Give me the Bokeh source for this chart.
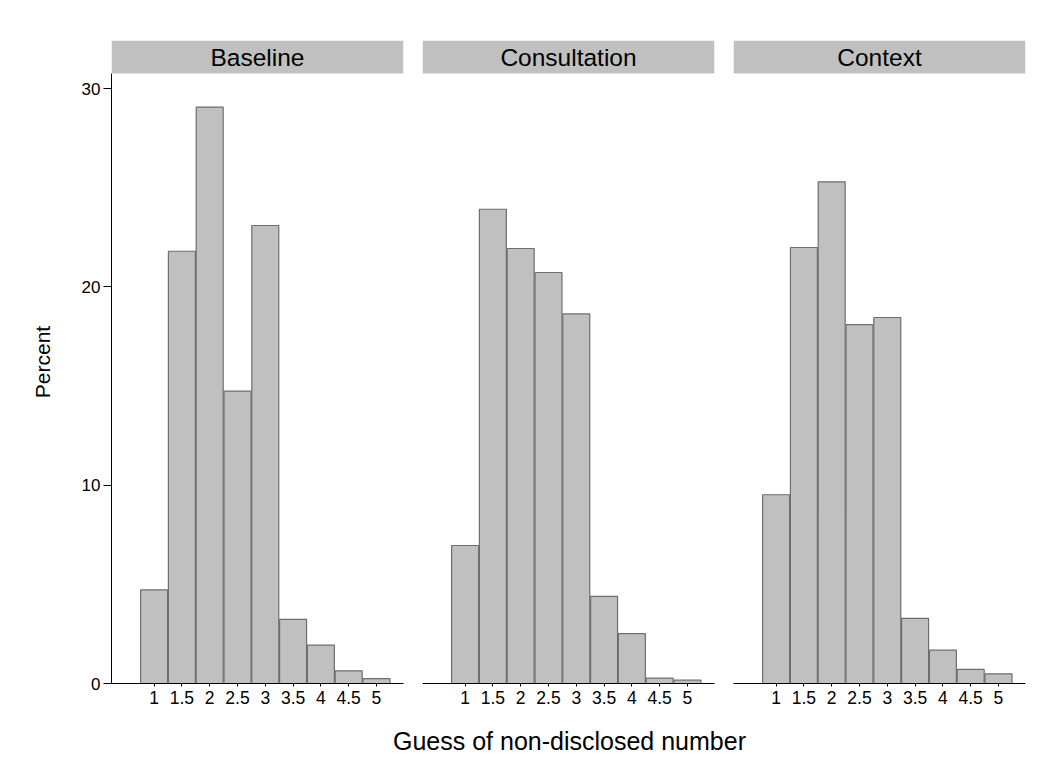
from bokeh.plotting import figure
from bokeh.layouts import row, column
from bokeh.models import FixedTicker, Range1d, BoxAnnotation, Label
from bokeh.embed import file_html
from bokeh.resources import INLINE

guess = [1, 1.5, 2, 2.5, 3, 3.5, 4, 4.5, 5]
tick_labels = ["1", "1.5", "2", "2.5", "3", "3.5", "4", "4.5", "5"]
panels = ["Baseline", "Consultation", "Context"]
baseline = [4.72, 21.8, 29.07, 14.75, 23.1, 3.23, 1.94, 0.64, 0.25]
consultation = [6.96, 23.92, 21.94, 20.73, 18.64, 4.39, 2.52, 0.27, 0.17]
context = [9.52, 21.99, 25.3, 18.1, 18.46, 3.28, 1.68, 0.71, 0.49]
y_ticks = [0, 10, 20, 30]
x_title = "Guess of non-disclosed number"
y_title = "Percent"
series = [baseline, consultation, context]

FONT = "Liberation Sans"
X0, X1 = 0.234, 5.486
Y0, Y1 = 0, 32.43
STRIP_BOTTOM = 30.76

figs = []
for i, (name, vals) in enumerate(zip(panels, series)):
    p = figure(
        frame_width=292, frame_height=643,
        x_range=Range1d(X0, X1), y_range=Range1d(Y0, Y1),
        output_backend="svg", toolbar_location=None,
        y_axis_location="left" if i == 0 else None,
        min_border_left=111 if i == 0 else 10,
        min_border_right=9 if i < 2 else 10,
        min_border_top=40, min_border_bottom=35,
        background_fill_color="white", border_fill_color="white",
    )
    p.outline_line_color = None
    p.xgrid.visible = False
    p.ygrid.visible = False
    p.vbar(x=guess, top=vals, width=0.485, bottom=0,
           fill_color="#c0c0c0", line_color="#6e6e6e", line_width=1.2)

    xa = p.xaxis[0]
    xa.ticker = FixedTicker(ticks=guess)
    xa.major_label_overrides = {float(g): t for g, t in zip(guess, tick_labels)}
    xa.minor_tick_line_color = None
    xa.major_tick_out = 3
    xa.major_tick_in = 0
    xa.major_label_standoff = 4
    xa.major_label_text_font = FONT
    xa.major_label_text_font_size = "17.5px"
    xa.major_label_text_color = "black"
    xa.axis_line_color = "black"
    xa.major_tick_line_color = "black"

    if i == 0:
        ya = p.yaxis[0]
        ya.ticker = FixedTicker(ticks=y_ticks)
        ya.bounds = (Y0, STRIP_BOTTOM)
        ya.minor_tick_line_color = None
        ya.major_tick_out = 8
        ya.major_tick_in = 0
        ya.major_label_standoff = 3
        ya.major_label_text_font = FONT
        ya.major_label_text_font_size = "17px"
        ya.major_label_text_color = "black"
        ya.axis_line_color = "black"
        ya.major_tick_line_color = "black"
        ya.axis_label = y_title
        ya.axis_label_text_font = FONT
        ya.axis_label_text_font_size = "21px"
        ya.axis_label_text_font_style = "normal"
        ya.axis_label_text_color = "black"
        ya.axis_label_standoff = 25

    strip = BoxAnnotation(bottom=STRIP_BOTTOM, fill_color="#c0c0c0",
                          fill_alpha=1.0, line_color=None)
    p.add_layout(strip)
    p.add_layout(Label(x=(X0 + X1) / 2, y=(STRIP_BOTTOM + Y1) / 2, text=name,
                       text_align="center", text_baseline="middle",
                       text_font=FONT, text_font_size="24.5px",
                       text_color="black"))
    figs.append(p)

# bottom strip holding the shared x-axis title
t = figure(width=1035, height=45, output_backend="svg", toolbar_location=None,
           x_axis_location=None, y_axis_location=None,
           min_border=0, background_fill_color="white",
           border_fill_color="white")
t.outline_line_color = None
t.xgrid.visible = False
t.ygrid.visible = False
t.add_layout(Label(x=569, y=23, x_units="screen", y_units="screen",
                   text=x_title, text_align="center", text_baseline="middle",
                   text_font=FONT, text_font_size="25px", text_color="black"))

layout = column(row(*figs), t)
open("out.html", "w").write(file_html(layout, INLINE))
